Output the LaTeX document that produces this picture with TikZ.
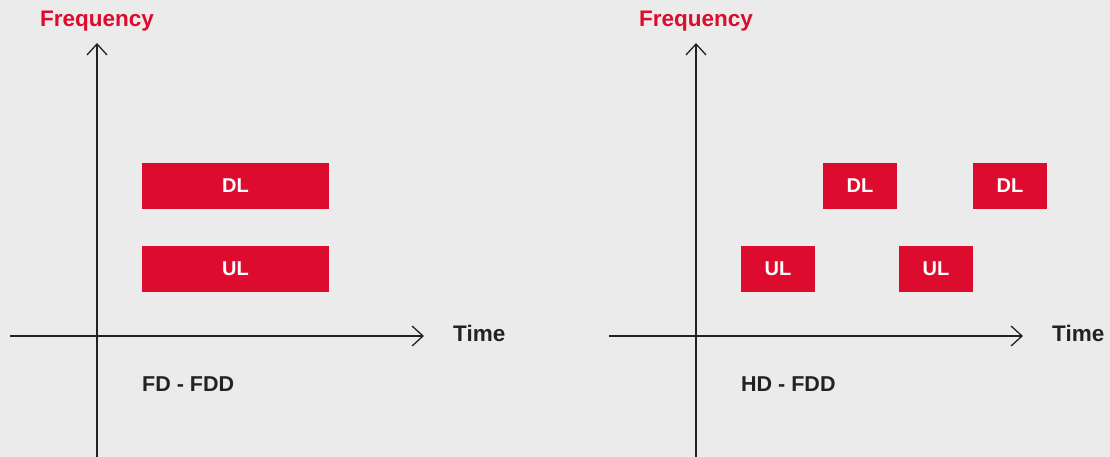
\documentclass[tikz,border=0pt]{standalone}
\usepackage{fontspec}
\setmainfont{Liberation Sans}
\usetikzlibrary{arrows.meta}
\definecolor{bg}{HTML}{EBEBEB}
\definecolor{brandred}{HTML}{DD0B2D}
\definecolor{ink}{HTML}{222222}
\tikzset{
  axis/.style={draw=ink, line width=1.3pt, -{Straight Barb[length=11pt,width=20pt,line width=1.3pt]}},
  blk/.style={fill=brandred, text=white, inner sep=0pt, font=\fontsize{20}{22}\selectfont\bfseries},
  axlabel/.style={text=brandred, inner sep=0pt, font=\fontsize{22.5}{26}\selectfont\bfseries},
  tlabel/.style={text=ink, inner sep=0pt, font=\fontsize{22.5}{26}\selectfont\bfseries},
  caplabel/.style={text=ink, inner sep=0pt, font=\fontsize{21.5}{25}\selectfont\bfseries},
}
\begin{document}
\begin{tikzpicture}[x=1pt,y=-1pt]
\fill[bg] (0,0) rectangle (1110,457);
\useasboundingbox (0,0) rectangle (1110,457);
% left panel
\coordinate (l-vb) at (97,457);
\coordinate (l-vt) at (97,43);
\coordinate (l-hl) at (10,336);
\coordinate (l-hr) at (424,336);
\draw[axis] (l-vb) -- (l-vt);
\draw[axis] (l-hl) -- (l-hr);
\node[axlabel] (l-freq) at (97,21.5) {Frequency};
\node[tlabel, anchor=west] (l-time) at (453,333.5) {Time};
\node[caplabel, anchor=west] (l-cap) at (142,384) {FD - FDD};
\node[blk, minimum width=187pt, minimum height=46pt] (l-dl) at (235.5,186) {DL};
\node[blk, minimum width=187pt, minimum height=46pt] (l-ul) at (235.5,269) {UL};
% right panel
\coordinate (r-vb) at (696,457);
\coordinate (r-vt) at (696,43);
\coordinate (r-hl) at (609,336);
\coordinate (r-hr) at (1023,336);
\draw[axis] (r-vb) -- (r-vt);
\draw[axis] (r-hl) -- (r-hr);
\node[axlabel] (r-freq) at (696,21.5) {Frequency};
\node[tlabel, anchor=west] (r-time) at (1052,333.5) {Time};
\node[caplabel, anchor=west] (r-cap) at (741,384) {HD - FDD};
\node[blk, minimum width=74pt, minimum height=46pt] (r-dl1) at (860,186) {DL};
\node[blk, minimum width=74pt, minimum height=46pt] (r-dl2) at (1010,186) {DL};
\node[blk, minimum width=74pt, minimum height=46pt] (r-ul1) at (778,269) {UL};
\node[blk, minimum width=74pt, minimum height=46pt] (r-ul2) at (936,269) {UL};
\end{tikzpicture}
\end{document}
